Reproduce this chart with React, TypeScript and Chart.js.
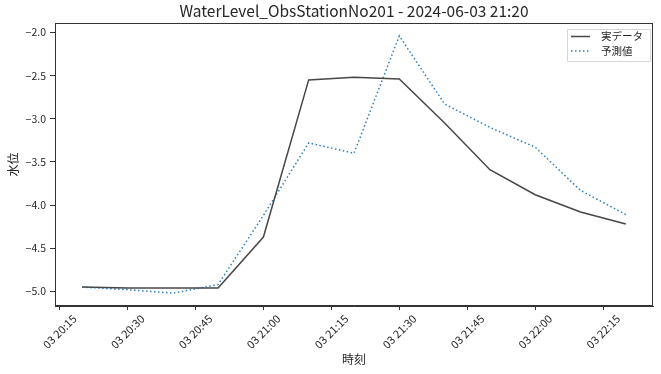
import React, { useEffect, useRef } from 'react';
import { Chart, registerables } from 'chart.js';

Chart.register(...registerables);

const chartTitle = 'WaterLevel_ObsStationNo201 - 2024-06-03 21:20';
const dayPrefix = '03';
const timeLabels = ['20:20', '20:30', '20:40', '20:50', '21:00', '21:10', '21:20', '21:30', '21:40', '21:50', '22:00', '22:10', '22:20'];
const actualValues = [-4.95, -4.96, -4.96, -4.96, -4.37, -2.55, -2.52, -2.54, -3.05, -3.59, -3.88, -4.08, -4.22];
const predictedValues = [-4.95, -4.98, -5.02, -4.92, -4.12, -3.28, -3.4, -2.04, -2.83, -3.1, -3.33, -3.83, -4.11];
const seriesNames = ['実データ', '予測値'];
const xTickLabels = ['20:15', '20:30', '20:45', '21:00', '21:15', '21:30', '21:45', '22:00', '22:15'];
const yTickValues = [-5.0, -4.5, -4.0, -3.5, -3.0, -2.5, -2.0];
const xAxisTitle = '時刻';
const yAxisTitle = '水位';

const FONT = "'Noto Sans CJK JP', 'Noto Sans', sans-serif";
const TEXT = '#262626';
const AXIS = '#333333';

const toMinutes = (t: string) => {
  const [h, m] = t.split(':').map(Number);
  return h * 60 + m;
};
const pad2 = (n: number) => String(n).padStart(2, '0');
const fmtTime = (v: number) => `${dayPrefix} ${pad2(Math.floor(v / 60))}:${pad2(Math.round(v % 60))}`;
const fmtNum = (v: number) => (v < 0 ? '\u2212' : '') + Math.abs(v).toFixed(1);

const overlayPlugin = {
  id: 'overlay',
  afterDraw(chart: any) {
    const { ctx, chartArea: a } = chart;
    ctx.save();
    ctx.setLineDash([]);
    ctx.strokeStyle = AXIS;
    ctx.lineWidth = 1;
    const l = Math.round(a.left) + 0.5;
    const t = Math.round(a.top) + 0.5;
    const r = Math.round(a.right) - 0.5;
    const b = Math.round(a.bottom) - 0.5;
    ctx.strokeRect(l, t, r - l, b - t);

    const w = 83;
    const h = 32;
    const x = a.right - 3 - w;
    const y = a.top + 6;
    ctx.fillStyle = 'rgba(255,255,255,0.85)';
    ctx.strokeStyle = '#d6d6d6';
    ctx.lineWidth = 1;
    ctx.beginPath();
    ctx.rect(Math.round(x) + 0.5, Math.round(y) + 0.5, w, h);
    ctx.fill();
    ctx.stroke();
    chart.data.datasets.forEach((ds: any, i: number) => {
      const cy = y + 7.5 + i * 14.5;
      ctx.strokeStyle = ds.borderColor;
      ctx.lineWidth = ds.borderWidth;
      ctx.setLineDash(ds.borderDash || []);
      ctx.beginPath();
      ctx.moveTo(x + 4, cy);
      ctx.lineTo(x + 23, cy);
      ctx.stroke();
      ctx.setLineDash([]);
      ctx.fillStyle = TEXT;
      ctx.font = `10.5px ${FONT}`;
      ctx.textBaseline = 'middle';
      ctx.textAlign = 'left';
      ctx.fillText(ds.label, x + 34, cy);
    });
    ctx.restore();
  },
};

export default function App() {
  const canvasRef = useRef<HTMLCanvasElement | null>(null);

  useEffect(() => {
    const canvas = canvasRef.current;
    if (!canvas) return;
    const xs = timeLabels.map(toMinutes);
    const xSpan = xs[xs.length - 1] - xs[0];
    const allY = [...actualValues, ...predictedValues];
    const yMin = Math.min(...allY);
    const yMax = Math.max(...allY);
    const ySpan = yMax - yMin;

    const chart = new Chart(canvas, {
      type: 'line',
      data: {
        datasets: [
          {
            label: seriesNames[0],
            data: xs.map((x, i) => ({ x, y: actualValues[i] })),
            borderColor: '#474747',
            borderWidth: 1.5,
            pointRadius: 0,
            fill: false,
            tension: 0,
          },
          {
            label: seriesNames[1],
            data: xs.map((x, i) => ({ x, y: predictedValues[i] })),
            borderColor: '#2a7fba',
            borderWidth: 1.5,
            borderDash: [1.5, 2.5],
            borderCapStyle: 'butt',
            pointRadius: 0,
            fill: false,
            tension: 0,
          },
        ],
      },
      options: {
        responsive: false,
        animation: false,
        devicePixelRatio: 1,
        layout: { padding: { top: 0, right: 8, bottom: 0, left: 0 } },
        plugins: {
          legend: { display: false },
          tooltip: { enabled: false },
          title: {
            display: true,
            fullSize: false,
            text: chartTitle,
            color: TEXT,
            font: { family: FONT, size: 15.5, weight: 'normal', lineHeight: 1.2 },
            padding: { top: 2, bottom: 2.4 },
          },
        },
        scales: {
          x: {
            type: 'linear',
            position: 'bottom',
            min: xs[0] - 0.05 * xSpan,
            max: xs[xs.length - 1] + 0.05 * xSpan,
            afterBuildTicks: (scale: any) => {
              scale.ticks = xTickLabels.map((t) => ({ value: toMinutes(t) }));
            },
            afterFit: (scale: any) => {
              scale.height = 68;
            },
            ticks: {
              color: TEXT,
              font: { family: FONT, size: 11 },
              minRotation: 45,
              maxRotation: 45,
              autoSkip: false,
              padding: 2,
              labelOffset: 15,
              callback: (v: any) => fmtTime(Number(v)),
            },
            grid: { display: true, drawOnChartArea: false, drawTicks: true, tickLength: 4, color: AXIS },
            border: { display: true, color: AXIS },
            title: {
              display: true,
              text: xAxisTitle,
              color: TEXT,
              font: { family: FONT, size: 12 },
              padding: { top: 0, bottom: 7 },
            },
          },
          y: {
            type: 'linear',
            position: 'left',
            min: yMin - 0.05 * ySpan,
            max: yMax + 0.05 * ySpan,
            afterBuildTicks: (scale: any) => {
              scale.ticks = yTickValues.map((v) => ({ value: v }));
            },
            afterFit: (scale: any) => {
              scale.width = 55;
            },
            ticks: {
              color: TEXT,
              font: { family: FONT, size: 10.5 },
              padding: 4,
              callback: (v: any) => fmtNum(Number(v)),
            },
            grid: { display: true, drawOnChartArea: false, drawTicks: true, tickLength: 5, color: AXIS },
            border: { display: true, color: AXIS },
            title: {
              display: true,
              text: yAxisTitle,
              color: TEXT,
              font: { family: FONT, size: 12 },
              padding: { top: 6, bottom: 0 },
            },
          },
        },
      },
      plugins: [overlayPlugin],
    } as any);

    return () => chart.destroy();
  }, []);

  return (
    <div style={{ position: 'fixed', left: 0, top: 0, width: 661, height: 374, background: '#fff' }}>
      <canvas ref={canvasRef} width={661} height={374} style={{ display: 'block', width: 661, height: 374 }} />
    </div>
  );
}
